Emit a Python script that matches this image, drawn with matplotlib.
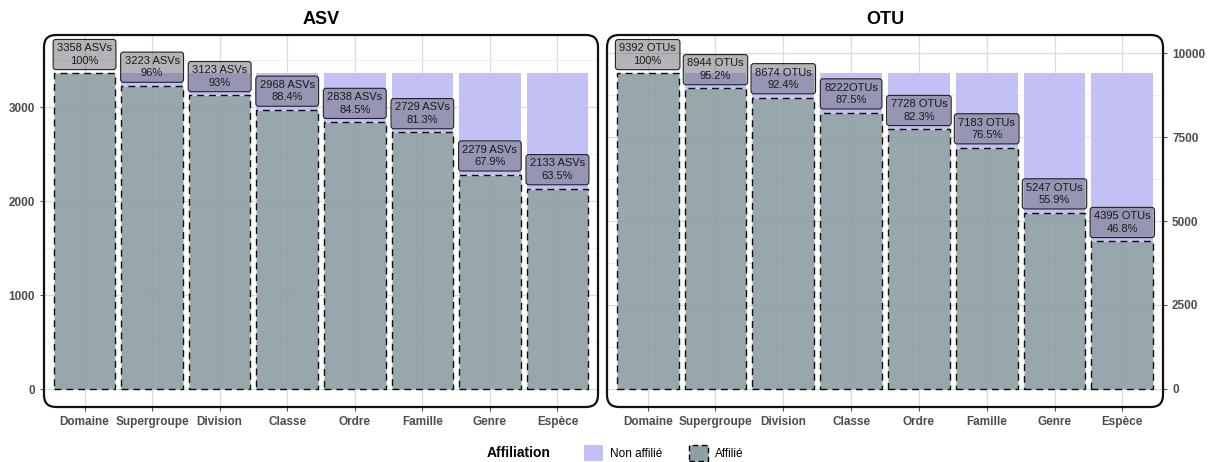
import matplotlib
matplotlib.use("Agg")
import matplotlib.pyplot as plt
from matplotlib.patches import FancyBboxPatch, Patch
from matplotlib.transforms import IdentityTransform
from matplotlib.ticker import MultipleLocator

plt.rcParams["font.family"] = ["Liberation Sans", "DejaVu Sans"]

categories = ["Domaine", "Supergroupe", "Division", "Classe", "Ordre", "Famille", "Genre", "Espèce"]
asv_values = [3358, 3223, 3123, 2968, 2838, 2729, 2279, 2133]
asv_total = 3358
asv_labels = ["3358 ASVs\n100%", "3223 ASVs\n96%", "3123 ASVs\n93%", "2968 ASVs\n88.4%",
              "2838 ASVs\n84.5%", "2729 ASVs\n81.3%", "2279 ASVs\n67.9%", "2133 ASVs\n63.5%"]
otu_values = [9392, 8944, 8674, 8222, 7728, 7183, 5247, 4395]
otu_total = 9392
otu_labels = ["9392 OTUs\n100%", "8944 OTUs\n95.2%", "8674 OTUs\n92.4%", "8222OTUs\n87.5%",
              "7728 OTUs\n82.3%", "7183 OTUs\n76.5%", "5247 OTUs\n55.9%", "4395 OTUs\n46.8%"]

LAV = "#c3c0f6"
AFF = "#8fa0a5"
TXT = "#4d4d4d"

W, H = 1213, 462
fig = plt.figure(figsize=(W / 100, H / 100), dpi=100)

def px_axes(x0, x1, y0, y1):
    return fig.add_axes([x0 / W, (H - y1) / H, (x1 - x0) / W, (y1 - y0) / H])

panels = [
    ("ASV", asv_values, asv_total, asv_labels, px_axes(44, 598, 35, 407), (-191, 3766), 1000, "left"),
    ("OTU", otu_values, otu_total, otu_labels, px_axes(607, 1163, 35, 407), (-536, 10536), 2500, "right"),
]

for title, vals, total, labels, ax, ylim, step, side in panels:
    x = list(range(len(categories)))
    ax.set_xlim(-0.6, len(categories) - 0.4)
    ax.set_ylim(*ylim)
    ax.yaxis.set_major_locator(MultipleLocator(step))
    ax.yaxis.set_minor_locator(MultipleLocator(step / 2))
    ax.set_xticks(x)
    ax.set_xticklabels(categories)
    ax.grid(True, which="major", color="#dcdcdc", lw=0.9, zorder=0)
    ax.grid(True, which="minor", axis="y", color="#ececec", lw=0.6, zorder=0)
    ax.set_axisbelow(True)
    rest = [total - v for v in vals]
    ax.bar(x, rest, bottom=vals, width=0.91, color=LAV, edgecolor="none", zorder=1)
    ax.bar(x, vals, width=0.91, color=AFF, alpha=0.93, edgecolor="black", linestyle=(0, (5, 3.5)),
           linewidth=1.0, zorder=2)
    for i, (v, lab) in enumerate(zip(vals, labels)):
        ax.annotate(lab, xy=(i, v), xytext=(0, 5.5), textcoords="offset points", ha="center",
                    va="bottom", fontsize=8, linespacing=1.3, color="#1a1a1a", zorder=5,
                    bbox=dict(boxstyle="round,pad=0.35,rounding_size=0.25", fc=(0.42, 0.42, 0.45, 0.5),
                              ec="#222222", lw=0.8))
    for s in ax.spines.values():
        s.set_visible(False)
    if side == "right":
        ax.yaxis.tick_right()
    ax.tick_params(axis="both", which="major", length=3, color="#555555", labelcolor=TXT,
                   labelsize=8.5)
    ax.tick_params(axis="both", which="minor", length=0)
    for lbl in ax.get_xticklabels() + ax.get_yticklabels():
        lbl.set_fontweight("bold")
    ax.set_title(title, fontsize=13, fontweight="bold", pad=8)
    # rounded panel border
    bb = ax.get_window_extent()
    fig.patches.append(FancyBboxPatch((bb.x0, bb.y0), bb.width, bb.height,
                                      boxstyle="round,pad=0,rounding_size=12",
                                      transform=IdentityTransform(), fc="none", ec="#111111",
                                      lw=1.6, zorder=10))

fig.text(487 / W, 1 - 453 / H, "Affiliation", fontsize=10, fontweight="bold", va="center", ha="left")
handles = [Patch(fc=LAV, ec="none", label="Non affilié"),
           Patch(fc=AFF, ec="black", linestyle=(0, (4, 2.5)), lw=1.0, label="Affilié")]
fig.legend(handles=handles, loc="center left", bbox_to_anchor=(578 / W, 1 - 453 / H), ncol=2,
           frameon=False, fontsize=8.5, handlelength=1.6, handleheight=1.6, columnspacing=2.3,
           handletextpad=0.6, borderpad=0)

fig.savefig("out.png", dpi=100)
